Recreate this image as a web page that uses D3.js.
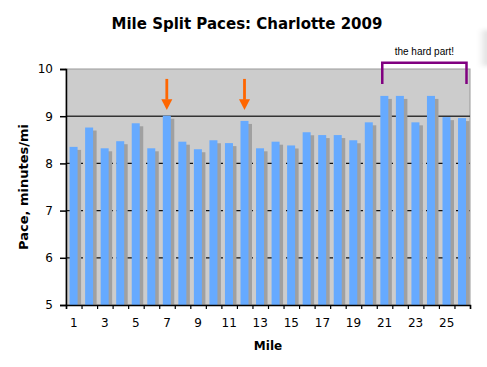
<!DOCTYPE html>
<html>
<head>
<meta charset="utf-8">
<script src="https://cdn.jsdelivr.net/npm/d3@7"></script>
<style>
  body { margin: 0; background: #fff; }
  svg { display: block; }
  .tick text { font-family: "DejaVu Sans", sans-serif; font-size: 12px; fill: #000; }
</style>
</head>
<body>
<div id="chart"></div>
<script>
// chart data
var miles = [1, 2, 3, 4, 5, 6, 7, 8, 9, 10, 11, 12, 13, 14, 15, 16, 17, 18, 19, 20, 21, 22, 23, 24, 25, 26];
var paces = [8.35, 8.76, 8.32, 8.47, 8.85, 8.32, 9.01, 8.46, 8.30, 8.49, 8.43, 8.90, 8.32,
             8.46, 8.38, 8.66, 8.60, 8.60, 8.49, 8.87, 9.43, 9.43, 8.87, 9.43, 8.98, 8.96];
var yTicks = [5, 6, 7, 8, 9, 10];
var xTickLabels = [1, 3, 5, 7, 9, 11, 13, 15, 17, 19, 21, 23, 25];
var arrowMiles = [7, 12];
var hardPart = [21, 26];

var svgWidth = 487;
var svgHeight = 367;
var margin = { top: 69, right: 17, bottom: 62, left: 66 };
var width = svgWidth - margin.left - margin.right;
var height = svgHeight - margin.top - margin.bottom;

var svg = d3.select("#chart")
    .append("svg")
    .attr("width", svgWidth)
    .attr("height", svgHeight);

// faint window shadow at the right edge
var defs = svg.append("defs");
var grad = defs.append("linearGradient").attr("id", "edge").attr("x1", 0).attr("x2", 1);
grad.append("stop").attr("offset", "0%").attr("stop-color", "#fff");
grad.append("stop").attr("offset", "100%").attr("stop-color", "#d8d8d8");
defs.append("filter").attr("id", "blur").append("feGaussianBlur").attr("stdDeviation", 2);
svg.append("rect")
    .attr("x", 478).attr("y", 30).attr("width", 12).attr("height", 36)
    .attr("fill", "url(#edge)").attr("filter", "url(#blur)");

var chartGroup = svg.append("g")
    .attr("transform", `translate(${margin.left}, ${margin.top})`);

var x = d3.scaleBand().domain(miles).range([0, width]).padding(0);
var xEdge = d3.scaleLinear().domain([0, miles.length]).range([0, width]);
var y = d3.scaleLinear().domain([5, 10]).range([height, 0]);
var bw = x.bandwidth();

// plot background
chartGroup.append("rect")
    .attr("width", width)
    .attr("height", height)
    .attr("fill", "#cccccc")
    .attr("stroke", "#999")
    .attr("stroke-width", 1);

// gridlines
chartGroup.selectAll(".grid")
    .data(yTicks.filter(d => d > 5 && d < 10))
    .enter()
    .append("line")
    .attr("x1", 0)
    .attr("x2", width)
    .attr("y1", d => y(d))
    .attr("y2", d => y(d))
    .attr("stroke", d => d === 9 ? "#333" : "#111")
    .attr("stroke-width", d => d === 9 ? 1.5 : 1.2)
    .attr("stroke-dasharray", d => d === 9 ? null : "7,3");

// bar shadows
chartGroup.selectAll(".shadow")
    .data(paces)
    .enter()
    .append("rect")
    .attr("x", (d, i) => x(miles[i]) + bw * 0.23 + 3.5)
    .attr("y", d => y(d) + 3)
    .attr("width", bw * 0.515)
    .attr("height", d => height - y(d) - 3)
    .attr("fill", "#a0a0a0");

// bars
chartGroup.selectAll(".bar")
    .data(paces)
    .enter()
    .append("rect")
    .attr("x", (d, i) => x(miles[i]) + bw * 0.23)
    .attr("y", d => y(d))
    .attr("width", bw * 0.515)
    .attr("height", d => height - y(d))
    .attr("fill", "#66aaff");

// axes
var leftAxis = d3.axisLeft(y).tickValues(yTicks).tickFormat(d3.format("d")).tickSize(6).tickPadding(7);
chartGroup.append("g")
    .call(leftAxis)
    .call(g => g.select(".domain").attr("stroke", "#000").attr("stroke-width", 1.5))
    .call(g => g.selectAll(".tick line").attr("stroke", "#000").attr("stroke-width", 1.5));

chartGroup.append("g")
    .attr("transform", `translate(0, ${height})`)
    .call(d3.axisBottom(xEdge).ticks(miles.length).tickFormat("").tickSize(4))
    .call(g => g.select(".domain").attr("stroke", "#000").attr("stroke-width", 1.5))
    .call(g => g.selectAll(".tick line").attr("stroke", "#000").attr("stroke-width", 1.2));

chartGroup.append("g")
    .attr("transform", `translate(0, ${height})`)
    .call(d3.axisBottom(x).tickValues(xTickLabels).tickSize(0).tickPadding(13))
    .call(g => g.select(".domain").remove());

// arrows
arrowMiles.forEach(m => {
    var cx = x(m) + bw * 0.23 + bw * 0.515 / 2;
    chartGroup.append("line")
        .attr("x1", cx).attr("x2", cx)
        .attr("y1", y(9.79)).attr("y2", y(9.35))
        .attr("stroke", "#ff6600")
        .attr("stroke-width", 2.8);
    chartGroup.append("path")
        .attr("d", `M${cx - 5.5},${y(9.36)} L${cx + 5.5},${y(9.36)} L${cx},${y(9.13)} Z`)
        .attr("fill", "#ff6600");
});

// the hard part bracket
var bx1 = x(hardPart[0]) + 5.5;
var bx2 = x(hardPart[1]) + bw - 3.5;
chartGroup.append("path")
    .attr("d", `M${bx1},${y(9.68)} L${bx1},${y(10.13)} L${bx2},${y(10.13)} L${bx2},${y(9.68)}`)
    .attr("fill", "none")
    .attr("stroke", "#800080")
    .attr("stroke-width", 2.5);

chartGroup.append("text")
    .attr("x", (bx1 + bx2) / 2)
    .attr("y", y(10.3))
    .attr("text-anchor", "middle")
    .style("font-family", "'Liberation Sans', Arial, sans-serif")
    .style("font-size", "10px")
    .text("the hard part!");

// title and axis labels
svg.append("text")
    .attr("x", 247)
    .attr("y", 29)
    .attr("text-anchor", "middle")
    .style("font-family", "'DejaVu Sans', sans-serif")
    .style("font-weight", "bold")
    .style("font-size", "15px")
    .text("Mile Split Paces: Charlotte 2009");

svg.append("text")
    .attr("transform", `translate(28, ${margin.top + height / 2}) rotate(-90)`)
    .attr("text-anchor", "middle")
    .style("font-family", "'DejaVu Sans', sans-serif")
    .style("font-weight", "bold")
    .style("font-size", "13px")
    .text("Pace, minutes/mi");

svg.append("text")
    .attr("x", margin.left + width / 2)
    .attr("y", 350)
    .attr("text-anchor", "middle")
    .style("font-family", "'DejaVu Sans', sans-serif")
    .style("font-weight", "bold")
    .style("font-size", "12px")
    .text("Mile");
</script>
</body>
</html>
